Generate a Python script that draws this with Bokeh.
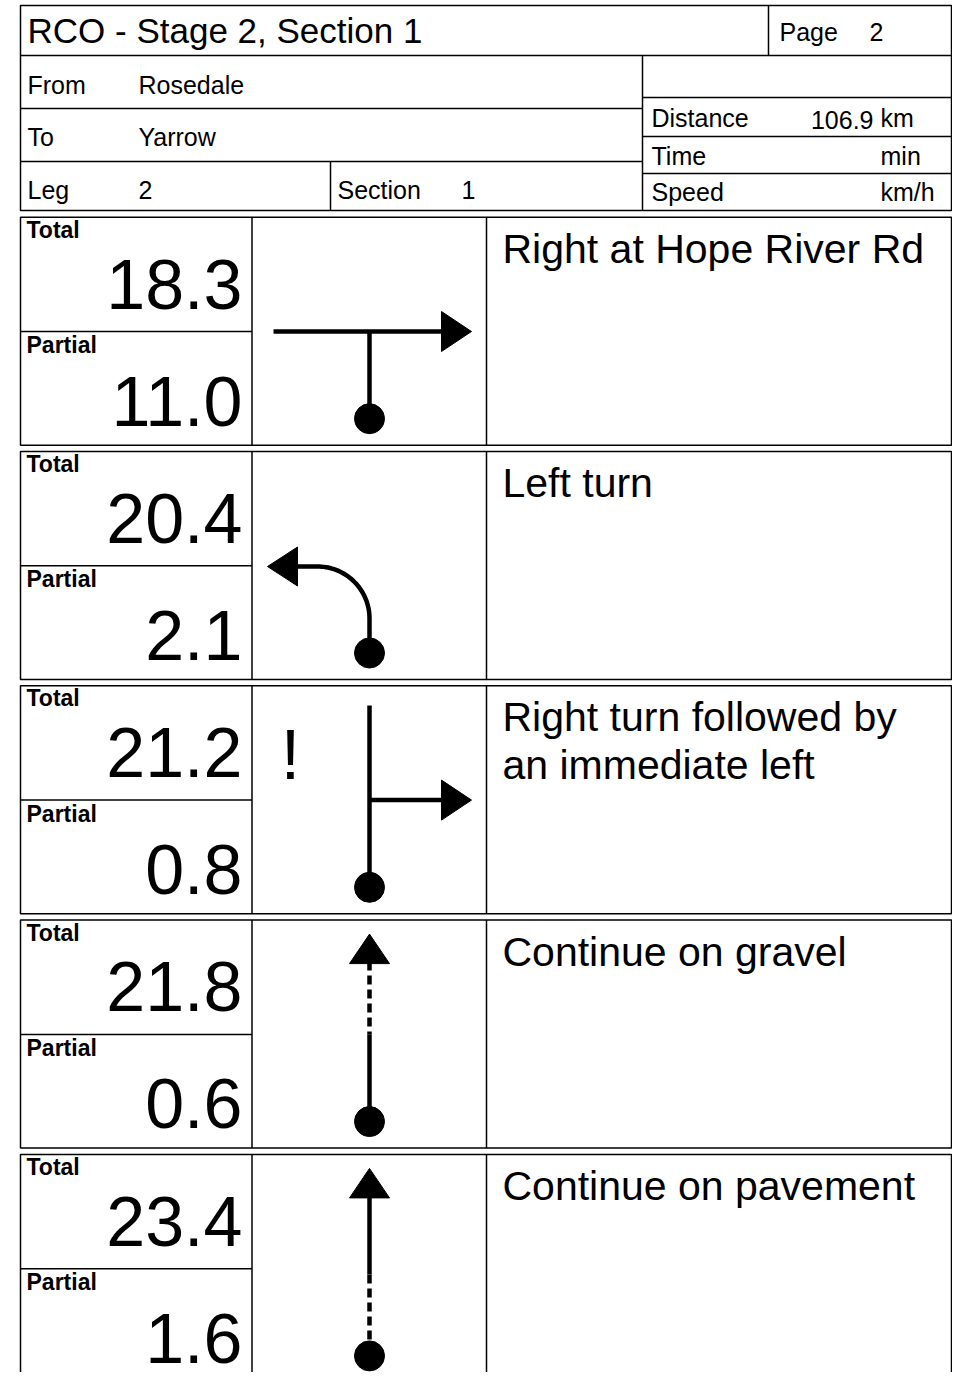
import numpy as np
from bokeh.plotting import figure
from bokeh.models import Range1d
from bokeh.core.properties import value
from bokeh.embed import file_html
from bokeh.resources import INLINE

# ---------------- data ----------------
title = "RCO - Stage 2, Section 1"
page_no = "2"
from_place = "Rosedale"
to_place = "Yarrow"
leg_no = "2"
section_no = "1"
distance_km = "106.9"
header_units = ["km", "min", "km/h"]
header_labels = ["Distance", "Time", "Speed"]

totals = [18.3, 20.4, 21.2, 21.8, 23.4]
partials = [11.0, 2.1, 0.8, 0.6, 1.6]
instructions = [
    "Right at Hope River Rd",
    "Left turn",
    "Right turn followed by\nan immediate left",
    "Continue on gravel",
    "Continue on pavement",
]
icons = ["t_right", "curve_left", "branch_right", "straight_gravel", "straight_pavement"]
cautions = ["", "", "!", "", ""]

# ---------------- figure ----------------
FONT = "Liberation Sans"
W, H = 952, 1372
p = figure(width=W, height=H, x_range=Range1d(0, W), y_range=Range1d(H, 0),
           output_backend="svg", toolbar_location=None,
           x_axis_location=None, y_axis_location=None, min_border=0)
p.grid.visible = False
p.outline_line_color = None
p.background_fill_color = "white"
p.border_fill_color = "white"

BASE_SHIFT = 0.35


def txt(x, y, s, size, align="left", bold=False):
    p.text(x=[x], y=[y - BASE_SHIFT * size], text=[s], text_font=value(FONT),
           text_font_size=value(f"{size}px"), text_align=align,
           text_baseline="alphabetic", text_color="black",
           text_font_style="bold" if bold else "normal")


BW = 1.5
segs = []  # (x0, y0, x1, y1)

# ---------------- header ----------------
L, R = 20, 951
HT, HB = 5, 210
p.quad(left=[L], right=[R], top=[HT], bottom=[HB], fill_color=None,
       line_color="black", line_width=BW)
segs += [
    (L, 55, R, 55),
    (768, HT, 768, 55),
    (L, 108, 642, 108),
    (L, 161, 642, 161),
    (642, 55, 642, HB),
    (330, 161, 330, HB),
    (642, 97, R, 97),
    (642, 136, R, 136),
    (642, 173, R, 173),
]

HS = 25
txt(27, 42, title, 35)
txt(779, 40, "Page", HS)
txt(869, 40, page_no, HS)
txt(27, 93, "From", HS)
txt(138, 93, from_place, HS)
txt(27, 145, "To", HS)
txt(138, 145, to_place, HS)
txt(27, 198, "Leg", HS)
txt(138, 198, leg_no, HS)
txt(337, 198, "Section", HS)
txt(461, 198, section_no, HS)
rows_y = [126, 164, 200]
for lab, unit, yy in zip(header_labels, header_units, rows_y):
    txt(651, yy, lab, HS)
    txt(880, yy, unit, HS)
txt(873, 128, distance_km, HS, align="right")

# ---------------- rows ----------------
ROW0, PITCH, RH = 216.7, 234.3, 228
C1, C2 = 251.5, 486
CX = 369
LW = 4.5

for i in range(len(totals)):
    T = ROW0 + i * PITCH
    B = T + RH
    mid = T + 114.3
    p.quad(left=[L], right=[R], top=[T], bottom=[B], fill_color=None,
           line_color="black", line_width=BW)
    segs += [(C1, T, C1, B), (C2, T, C2, B), (L, mid, C1, mid)]

    txt(26, T + 20.5, "Total", 23, bold=True)
    txt(242, T + 91.3, f"{totals[i]:.1f}", 70, align="right")
    txt(26, T + 135.8, "Partial", 23, bold=True)
    txt(242, T + 208.3, f"{partials[i]:.1f}", 70, align="right")

    for k, line in enumerate(instructions[i].split("\n")):
        txt(502, T + 46 + k * 47.5, line, 41)

    if cautions[i]:
        txt(290, T + 93.5, cautions[i], 70, align="center")

    kind = icons[i]
    dot_y = T + 201.5
    if kind == "t_right":
        p.line([273, 443], [mid, mid], line_width=LW, color="black")
        p.line([CX, CX], [mid, dot_y], line_width=LW, color="black")
        p.patch([441, 471, 441], [mid - 20, mid, mid + 20], color="black")
    elif kind == "curve_left":
        ay = T + 115
        r = 52
        th = np.linspace(0, np.pi / 2, 40)
        xs = [CX] + list(CX - r + r * np.cos(th)) + [297]
        ys = [dot_y] + list(ay + r - r * np.sin(th)) + [ay]
        p.line(xs, ys, line_width=LW, color="black")
        p.patch([297, 267, 297], [ay - 19.5, ay, ay + 19.5], color="black")
    elif kind == "branch_right":
        p.line([CX, CX], [T + 19.7, dot_y], line_width=LW, color="black")
        p.line([CX, 443], [mid, mid], line_width=LW, color="black")
        p.patch([441, 471, 441], [mid - 20, mid, mid + 20], color="black")
    elif kind in ("straight_gravel", "straight_pavement"):
        tip = T + 14
        base = T + 43.5
        split = mid if kind == "straight_gravel" else T + 120
        dash_top = kind == "straight_gravel"
        p.line([CX, CX], [base - 2, split], line_width=LW, color="black",
               line_dash="9 5" if dash_top else "solid")
        p.line([CX, CX], [split, dot_y], line_width=LW, color="black",
               line_dash="solid" if dash_top else "9 5")
        p.patch([CX - 20, CX, CX + 20], [base, tip, base], color="black")
    p.scatter([CX], [dot_y], marker="circle", size=30, color="black")

x0, y0, x1, y1 = zip(*segs)
p.segment(x0=list(x0), y0=list(y0), x1=list(x1), y1=list(y1),
          line_color="black", line_width=BW)

open("out.html", "w").write(file_html(p, INLINE))
